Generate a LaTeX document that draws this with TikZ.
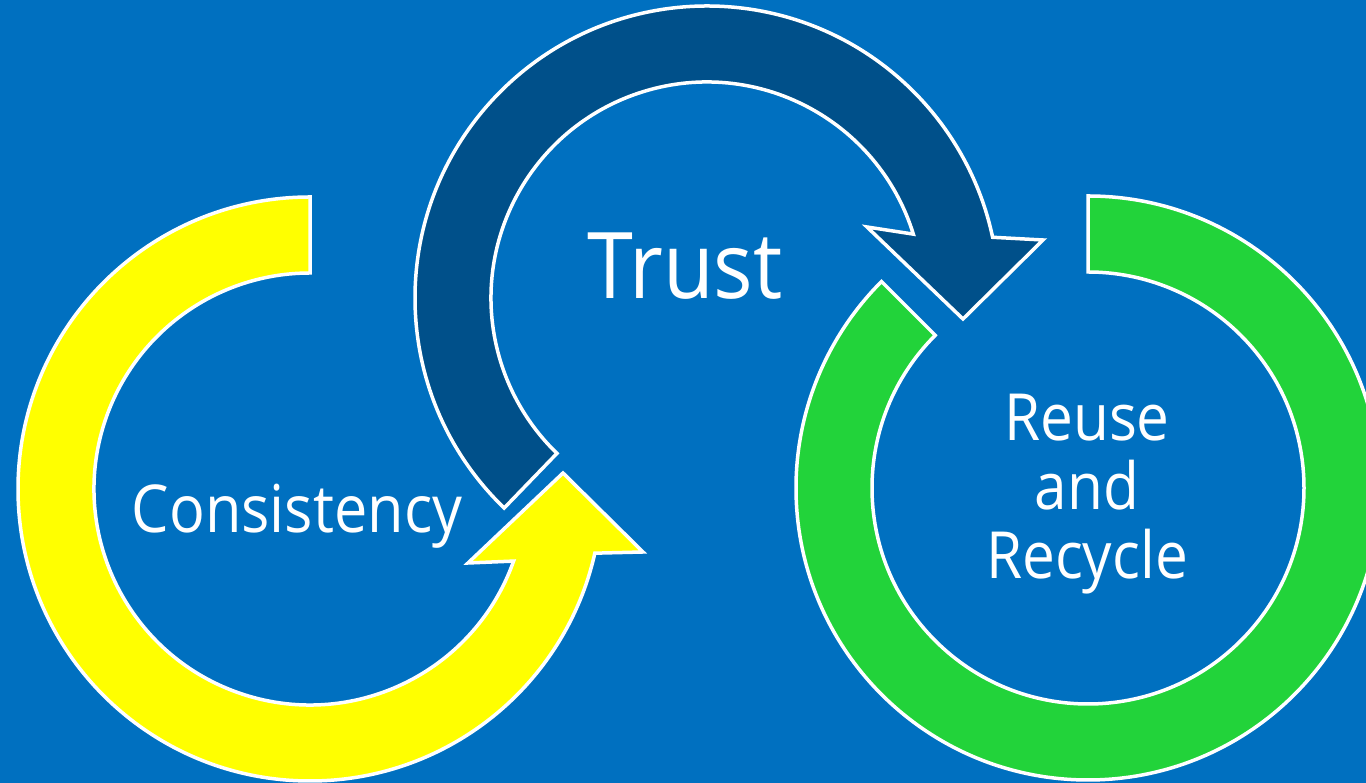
\documentclass[tikz,border=0pt]{standalone}
\usepackage{fontspec}
\setmainfont[FakeStretch=0.9]{Open Sans}
\usepackage{tikz}
\definecolor{qqxqcq}{rgb}{0.,0.4392156862745098,0.7529411764705882}
\definecolor{ffffqq}{rgb}{1.,1.,0.}
\definecolor{qqvqya}{rgb}{0.,0.3137254901960784,0.5411764705882353}
\definecolor{ssdtta}{rgb}{0.13333333333333333,0.8274509803921568,0.22745098039215686}
\tikzset{ringarrow/.style={line width=3.5pt,draw=white,line join=miter}}
\tikzset{ringlabel/.style={text=white,inner sep=0pt}}

\begin{document}
\begin{tikzpicture}[line cap=butt,line join=miter,x=1pt,y=1pt]
\useasboundingbox (0,0) rectangle (1366,783);
\fill[color=qqxqcq] (0,0) rectangle (1366,783);
\clip (0,0) rectangle (1366,783);
% yellow ring, open at the top, head pointing up to the right
\draw [shift={(310,294)},ringarrow,fill=ffffqq] (90:292) arc[start angle=90,end angle=347.3,radius=292] -- (333,-63) -- (253,16) -- (158,-74) -- (340.5:216) arc[start angle=340.5,end angle=90,radius=216] -- cycle;
% dark blue bow over the top, head pointing down to the right
\draw [shift={(707,485)},ringarrow,fill=qqvqya] (226:292) arc[start angle=226,end angle=12,radius=292] -- (336,58) -- (256,-21) -- (160,71) -- (17.2:216) arc[start angle=17.2,end angle=226,radius=216] -- cycle;
% green ring, flat ends
\draw [shift={(1088,295)},ringarrow,fill=ssdtta] (90:292) arc[start angle=90,end angle=-225,radius=292] -- (135:216) arc[start angle=-225,end angle=90,radius=216] -- cycle;
\node (consistency) [ringlabel,anchor=base,font=\fontsize{66}{79}\selectfont] at (297,250) {Consistency};
\node (trust) [ringlabel,anchor=base,font=\fontsize{92}{110}\selectfont] at (685,484) {Trust};
\node (reuse) [ringlabel,align=center,font=\fontsize{65}{69}\selectfont] at (1087,289) {Reuse\\and\\Recycle};
\end{tikzpicture}
\end{document}
